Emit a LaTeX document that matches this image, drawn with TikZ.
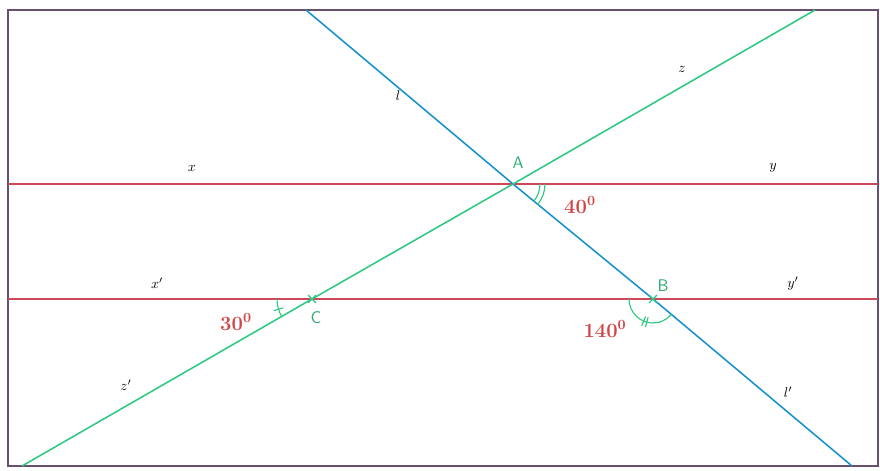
\documentclass[tikz,border=0pt]{standalone}
\usepackage{amsmath, amssymb}
\usepackage{xcolor}
\usepackage{tikz}
\usetikzlibrary{calc}

\definecolor{doline}{RGB}{205,72,88}
\definecolor{xanhduong}{RGB}{22,145,205}
\definecolor{xanhla}{RGB}{45,200,130}
\definecolor{chugoc}{RGB}{210,70,70}
\definecolor{chudiem}{RGB}{40,170,110}
\definecolor{khung}{RGB}{105,80,110}

\begin{document}
\begin{tikzpicture}[x=0.025cm, y=0.025cm, line width=0.9pt]
    \useasboundingbox (0,0) rectangle (880,470);
    \tikzset{
        redline/.style={doline, line width=1.3pt},
        blueline/.style={xanhduong, line width=1.1pt},
        greenline/.style={xanhla, line width=1.1pt},
        markline/.style={xanhla, line width=0.8pt},
        lbl/.style={inner sep=1pt, font=\normalsize},
        diem/.style={inner sep=1pt, text=chudiem, font=\sffamily\large},
        goc/.style={inner sep=1pt, text=chugoc, font=\Large\bfseries}
    }
    % 1. Khung
    \draw[khung, line width=1.4pt] (8,4) rectangle (878,460);

    % 2. Các điểm
    \coordinate (A) at (513,286);
    \coordinate (B) at (653,171);
    \coordinate (C) at (312,171);
    \coordinate (X) at (8,286);
    \coordinate (Y) at (878,286);
    \coordinate (X1) at (8,171);
    \coordinate (Y1) at (878,171);
    \coordinate (L) at (306,460);
    \coordinate (L1) at (852,4);
    \coordinate (Z) at (815,460);
    \coordinate (Z1) at (22,4);

    % 3. Hai đường thẳng song song xy, x'y'
    \draw[redline] (X) -- (Y);
    \draw[redline] (X1) -- (Y1);

    % 4. Hai cát tuyến ll', zz'
    \draw[blueline] (L) -- (A) -- (B) -- (L1);
    \draw[greenline] (Z) -- (A) -- (C) -- (Z1);

    % 5. Dấu điểm B, C
    \draw[markline] ($(B)+(-4,-4)$) -- ($(B)+(4,4)$) ($(B)+(-4,4)$) -- ($(B)+(4,-4)$);
    \draw[markline] ($(C)+(-4,-4)$) -- ($(C)+(4,4)$) ($(C)+(-4,4)$) -- ($(C)+(4,-4)$);

    % 6. Các góc
    % Góc 40 tại A
    \draw[markline] ($(A)+(0:27)$) arc[start angle=0, end angle=-40, radius=27];
    \draw[markline] ($(A)+(0:32)$) arc[start angle=0, end angle=-40, radius=32];
    % Góc 30 tại C
    \draw[markline] ($(C)+(180:35)$) arc[start angle=180, end angle=210, radius=35];
    \draw[markline] ($(C)+(197:30)$) -- ($(C)+(197:40)$);
    % Góc 140 tại B
    \draw[markline] ($(B)+(180:24)$) arc[start angle=180, end angle=320, radius=24];
    \draw[markline] ($(B)+(247:19)$) -- ($(B)+(247:29)$);
    \draw[markline] ($(B)+(255:19)$) -- ($(B)+(255:29)$);

    % 7. Nhãn
    \node[lbl] (lx) at (192,302) {$x$};
    \node[lbl] (ly) at (773,302) {$y$};
    \node[lbl] (lx1) at (157,187) {$x'$};
    \node[lbl] (ly1) at (793,186) {$y'$};
    \node[lbl] (ll) at (398,374) {$l$};
    \node[lbl] (lz) at (682,401) {$z$};
    \node[lbl] (lz1) at (126,85) {$z'$};
    \node[lbl] (ll1) at (788,78) {$l'$};
    \node[diem] (nA) at (518,307) {A};
    \node[diem] (nB) at (663,184) {B};
    \node[diem] (nC) at (316,152) {C};
    \node[goc] (g40) at (580,265) {40\textsuperscript{0}};
    \node[goc] (g30) at (236,148) {30\textsuperscript{0}};
    \node[goc] (g140) at (605,141) {140\textsuperscript{0}};
\end{tikzpicture}
\end{document}
